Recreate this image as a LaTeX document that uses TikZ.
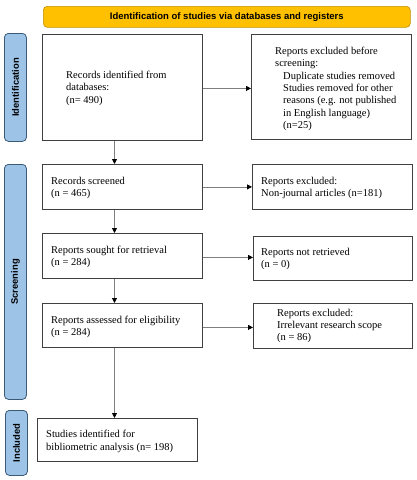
\documentclass[tikz,border=0pt]{standalone}
\usepackage{fontspec}
\setmainfont{Liberation Serif}
\newfontfamily\hdfont{Liberation Sans}
\usetikzlibrary{arrows.meta,calc}
\definecolor{bannerfill}{HTML}{FFC000}
\definecolor{bannerdraw}{HTML}{BF9000}
\definecolor{sidefill}{HTML}{9DC3E6}
\definecolor{sidedraw}{HTML}{3B5A78}
\definecolor{boxdraw}{HTML}{404040}
\definecolor{arrowgray}{HTML}{7F7F7F}
\tikzset{
  boxnode/.style={draw=boxdraw, line width=0.8pt, fill=white, inner sep=0pt, anchor=north west},
  txtnode/.style={anchor=west, inner sep=0pt, align=left, font=\fontsize{10.5}{12.3}\selectfont},
  sidebar/.style={draw=sidedraw, fill=sidefill, line width=0.8pt, rounded corners=4pt, inner sep=0pt, anchor=north west},
  sidelabel/.style={rotate=90, font=\hdfont\bfseries\fontsize{9.4}{11}\selectfont, inner sep=0pt},
  banner/.style={draw=bannerdraw, fill=bannerfill, line width=0.6pt, rounded corners=4pt, inner sep=0pt, anchor=north west},
  arr/.style={draw=arrowgray, line width=0.8pt, -{Triangle[length=5pt,width=5pt,black]}}
}
\begin{document}
\begin{tikzpicture}[x=1pt,y=-1pt]
\useasboundingbox (0,0) rectangle (417,480);
% banner
\node[banner, minimum width=367pt, minimum height=21pt] (ban) at (43,6) {};
\node[font=\hdfont\bfseries\fontsize{9.5}{11}\selectfont, inner sep=0pt] (bantxt) at (ban.center) {Identification of studies via databases and registers};
% side bars
\node[sidebar, minimum width=22pt, minimum height=108pt] (sid) at (4,33) {};
\node[sidelabel] (sidt) at (sid.center) {Identification};
\node[sidebar, minimum width=22pt, minimum height=235pt] (scr) at (4,164) {};
\node[sidelabel] (scrt) at (scr.center) {Screening};
\node[sidebar, minimum width=22pt, minimum height=65pt] (inc) at (5,410) {};
\node[sidelabel] (inct) at (inc.center) {Included};
% boxes
\node[boxnode, minimum width=160pt, minimum height=106pt] (b1) at (42,34) {};
\node[boxnode, minimum width=160pt, minimum height=105pt] (b2) at (251,34) {};
\node[boxnode, minimum width=160pt, minimum height=45pt] (b3) at (42,164) {};
\node[boxnode, minimum width=160pt, minimum height=45pt] (b4) at (252,164) {};
\node[boxnode, minimum width=160pt, minimum height=45pt] (b5) at (42,233) {};
\node[boxnode, minimum width=159pt, minimum height=44pt] (b6) at (253,236) {};
\node[boxnode, minimum width=160pt, minimum height=44pt] (b7) at (42,303) {};
\node[boxnode, minimum width=159pt, minimum height=45pt] (b8) at (253,303) {};
\node[boxnode, minimum width=160pt, minimum height=43pt] (b9) at (37,418) {};
% texts
\node[txtnode] (t1) at ($(b1.west)+(24,1)$) {Records identified from\\databases:\\(n= 490)};
\node[txtnode] (t2) at ($(b2.west)+(24,2)$) {Reports excluded before\\screening:\\\hspace*{8pt}Duplicate studies removed\\\hspace*{8pt}Studies removed for other\\\hspace*{8pt}reasons (e.g. not published\\\hspace*{8pt}in English language)\\\hspace*{8pt}(n=25)};
\node[txtnode] (t3) at ($(b3.west)+(9,1)$) {Records screened\\(n = 465)};
\node[txtnode] (t4) at ($(b4.west)+(9,1)$) {Reports excluded:\\Non-journal articles (n=181)};
\node[txtnode] (t5) at ($(b5.west)+(9,1)$) {Reports sought for retrieval\\(n = 284)};
\node[txtnode] (t6) at ($(b6.west)+(8,0.5)$) {Reports not retrieved\\(n = 0)};
\node[txtnode] (t7) at ($(b7.west)+(9,1.5)$) {Reports assessed for eligibility\\(n = 284)};
\node[txtnode] (t8) at ($(b8.west)+(24,0)$) {Reports excluded:\\Irrelevant research scope\\(n = 86)};
\node[txtnode] (t9) at ($(b9.west)+(9,1.5)$) {Studies identified for\\bibliometric analysis (n= 198)};
% connectors
\coordinate (vx) at (114.5,0);
\draw[arr] (b1.south -| vx) -- (b3.north -| vx);
\draw[arr] (b3.south -| vx) -- (b5.north -| vx);
\draw[arr] (b5.south -| vx) -- (b7.north -| vx);
\draw[arr] (b7.south -| vx) -- (b9.north -| vx);
\draw[arr] ($(b1.east)+(0,1)$) -- ($(b2.west |- b1.east)+(0,1)$);
\draw[arr] (b3.east) -- (b4.west |- b3.east);
\draw[arr] ($(b5.east)+(0,1.5)$) -- ($(b6.west |- b5.east)+(0,1.5)$);
\draw[arr] ($(b7.east)+(0,2)$) -- ($(b8.west |- b7.east)+(0,2)$);
\end{tikzpicture}
\end{document}
